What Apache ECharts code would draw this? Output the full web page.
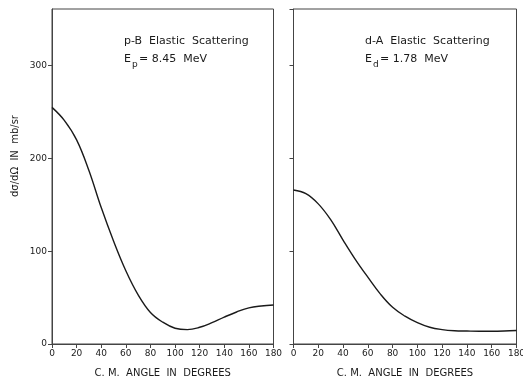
<!DOCTYPE html>
<html>
<head>
<meta charset="utf-8">
<script src="https://cdn.jsdelivr.net/npm/echarts@6/dist/echarts.min.js"></script>
<style>
  html, body { margin: 0; padding: 0; background: #fff; }
  #chart { width: 523px; height: 381px; }
</style>
</head>
<body>
<div id="chart"></div>
<script>
// angles (deg, c.m.)
const angles = [0, 10, 20, 30, 40, 50, 60, 70, 80, 90, 100, 110, 120, 130, 140, 150, 160, 170, 180];
// p-B elastic, Ep = 8.45 MeV (mb/sr)
const pbValues = [255, 241, 220, 187, 147, 111, 79, 53, 34, 23.5, 17, 15.5, 18, 23, 29, 34.5, 39, 41, 42];
// d-A elastic, Ed = 1.78 MeV (mb/sr)
const daValues = [166, 162, 151, 134, 112, 91, 72, 54, 39.5, 30, 23, 18, 15.5, 14.3, 14, 13.8, 13.8, 14, 14.5];
const xTicks = [0, 20, 40, 60, 80, 100, 120, 140, 160, 180];
const yTicks = [0, 100, 200, 300];

const chart = echarts.init(document.getElementById('chart'));

const ink = '#1a1a1a';
const baseFont = 'DejaVu Sans';

function xAxisCfg(idx) {
  return {
    type: 'value', gridIndex: idx, min: 0, max: 180, interval: 20,
    name: 'C. M.  ANGLE  IN  DEGREES', nameLocation: 'middle', nameGap: 24,
    nameTextStyle: { color: ink, fontSize: 10, fontFamily: baseFont },
    axisLine: { lineStyle: { color: '#444', width: 1 } },
    axisTick: { show: true, inside: false, length: 4, lineStyle: { color: '#444' } },
    axisLabel: { color: ink, fontSize: 9, fontFamily: baseFont, margin: 5,
      formatter: v => xTicks.includes(v) ? String(v) : '' },
    splitLine: { show: false }
  };
}

function yAxisCfg(idx, labels) {
  return {
    type: 'value', gridIndex: idx, min: 0, max: 361, interval: 100,
    axisLine: { show: true, lineStyle: { color: '#444', width: 1 } },
    axisTick: { show: true, inside: false, length: 4, lineStyle: { color: '#444' } },
    axisLabel: { show: labels, color: ink, fontSize: 9, fontFamily: baseFont, margin: 5,
      showMaxLabel: false,
      formatter: v => yTicks.includes(v) ? String(v) : '' },
    splitLine: { show: false }
  };
}

const lineStyle = { color: ink, width: 1.4 };

chart.setOption({
  animation: false,
  backgroundColor: '#fff',
  grid: [
    { left: 52, right: 249.5, top: 9, bottom: 37, show: true, borderColor: '#444', borderWidth: 1,
      outerBoundsMode: 'none' },
    { left: 293.5, right: 6.5, top: 9, bottom: 37, show: true, borderColor: '#444', borderWidth: 1,
      outerBoundsMode: 'none' }
  ],
  xAxis: [xAxisCfg(0), xAxisCfg(1)],
  yAxis: [yAxisCfg(0, true), yAxisCfg(1, false)],
  series: [
    {
      type: 'line', xAxisIndex: 0, yAxisIndex: 0, smooth: 0.4, showSymbol: false,
      lineStyle: lineStyle,
      data: angles.map((a, i) => [a, pbValues[i]])
    },
    {
      type: 'line', xAxisIndex: 1, yAxisIndex: 1, smooth: 0.4, showSymbol: false,
      lineStyle: lineStyle,
      data: angles.map((a, i) => [a, daValues[i]])
    }
  ],
  graphic: [
    { type: 'text', left: 124, top: 36,
      style: { text: 'p-B  Elastic  Scattering', font: '11px ' + baseFont, fill: ink } },
    { type: 'text', left: 124, top: 54,
      style: { text: 'E', font: '11px ' + baseFont, fill: ink } },
    { type: 'text', left: 132, top: 60,
      style: { text: 'p', font: '9px ' + baseFont, fill: ink } },
    { type: 'text', left: 139, top: 54,
      style: { text: '= 8.45  MeV', font: '11px ' + baseFont, fill: ink } },

    { type: 'text', left: 365, top: 36,
      style: { text: 'd-A  Elastic  Scattering', font: '11px ' + baseFont, fill: ink } },
    { type: 'text', left: 365, top: 54,
      style: { text: 'E', font: '11px ' + baseFont, fill: ink } },
    { type: 'text', left: 373, top: 60,
      style: { text: 'd', font: '9px ' + baseFont, fill: ink } },
    { type: 'text', left: 380, top: 54,
      style: { text: '= 1.78  MeV', font: '11px ' + baseFont, fill: ink } },

    { type: 'text', x: 15, y: 156, rotation: Math.PI / 2,
      style: { text: 'dσ/dΩ  IN  mb/sr', font: '10px ' + baseFont, fill: ink,
        align: 'center', verticalAlign: 'middle' } }
  ]
});
</script>
</body>
</html>
